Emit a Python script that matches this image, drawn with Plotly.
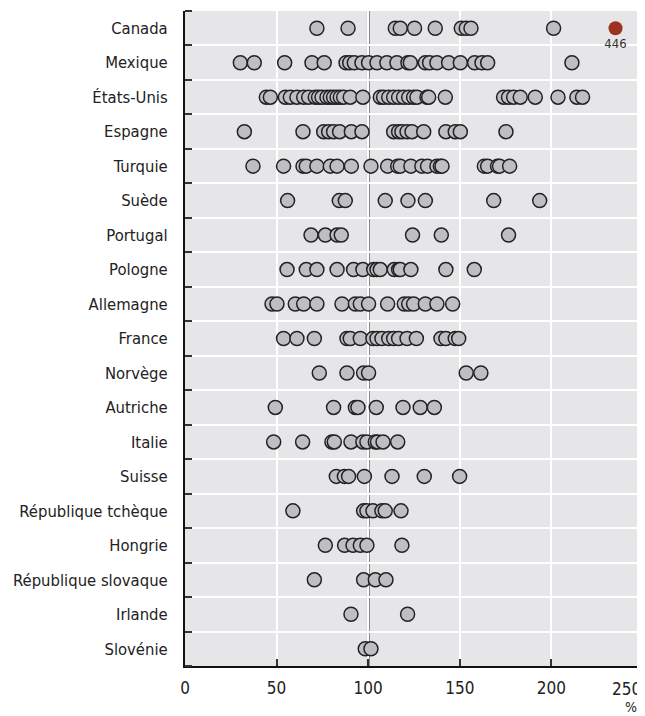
import plotly.graph_objects as go

countries = ["Canada", "Mexique", "États-Unis", "Espagne", "Turquie", "Suède", "Portugal",
             "Pologne", "Allemagne", "France", "Norvège", "Autriche", "Italie", "Suisse",
             "République tchèque", "Hongrie", "République slovaque", "Irlande", "Slovénie"]

canada = [72.0, 89.0, 114.8, 117.5, 125.3, 136.6, 150.8, 153.5, 156.1, 201.2]
mexique = [30.2, 37.8, 54.4, 69.3, 76.0, 87.9, 89.9, 92.4, 96.6, 100.2, 104.8, 110.2, 115.7,
           121.7, 123.0, 131.2, 133.5, 137.5, 143.9, 150.3, 158.1, 162.1, 165.2, 211.2]
etats_unis = [44.4, 46.6, 54.8, 57.5, 61.1, 64.8, 67.5, 71.1, 72.9, 74.8, 77.5, 79.3, 81.1, 83.0,
              84.8, 86.6, 90.2, 97.1, 106.6, 108.4, 111.2, 113.9, 116.6, 119.3, 122.1, 124.8,
              126.6, 132.1, 133.0, 142.1, 173.9, 176.6, 179.4, 183.0, 191.2, 203.6, 213.9, 217.0]
espagne = [32.4, 64.4, 75.7, 78.4, 81.1, 84.4, 90.8, 96.6, 113.9, 116.6, 118.4, 121.2, 123.9,
           130.3, 142.4, 147.5, 150.3, 175.2]
turquie = [37.1, 53.8, 64.4, 66.2, 72.0, 79.3, 83.0, 90.8, 101.5, 110.6, 116.1, 117.5, 123.3,
           129.3, 132.4, 137.5, 139.4, 140.3, 163.4, 165.2, 170.6, 171.7, 177.2]
suede = [56.0, 84.2, 87.5, 109.3, 121.7, 131.2, 168.5, 193.6]
portugal = [68.8, 76.6, 83.0, 85.3, 124.2, 139.9, 176.6]
pologne = [55.7, 66.2, 72.0, 83.0, 92.0, 97.1, 103.0, 104.8, 106.6, 114.2, 116.6, 117.5, 123.3,
           142.4, 157.9]
allemagne = [47.5, 50.2, 60.2, 64.8, 72.0, 85.7, 93.0, 95.7, 100.2, 110.6, 119.7, 122.1, 124.8,
             131.2, 137.5, 146.1]
france = [53.8, 61.1, 70.6, 88.4, 90.2, 95.7, 102.6, 104.8, 107.5, 111.2, 113.9, 116.6, 121.2,
          126.3, 139.7, 142.4, 147.5, 149.4]
norvege = [73.3, 88.4, 97.5, 100.2, 153.5, 161.5]
autriche = [49.3, 81.1, 93.0, 94.4, 104.4, 119.0, 128.4, 136.1]
italie = [48.4, 64.2, 80.2, 81.5, 90.6, 97.1, 99.3, 103.9, 105.1, 108.1, 116.1]
suisse = [82.6, 87.0, 89.3, 97.9, 113.0, 130.6, 149.9]
rep_tcheque = [58.9, 97.5, 99.3, 102.6, 107.5, 109.3, 117.9]
hongrie = [76.6, 87.1, 91.7, 95.7, 99.3, 118.4]
rep_slovaque = [70.6, 97.5, 103.9, 109.7]
irlande = [90.6, 121.5]
slovenie = [98.4, 101.5]

series = [canada, mexique, etats_unis, espagne, turquie, suede, portugal, pologne, allemagne,
          france, norvege, autriche, italie, suisse, rep_tcheque, hongrie, rep_slovaque,
          irlande, slovenie]

# Canada outlier: true value 446, drawn at the right edge of the (broken) scale
canada_outlier_value = 446
canada_outlier_display = 235

x_ticks = [0, 50, 100, 150, 200, 250]
reference_value = 100

n = len(countries)
ypos = {c: n - 1 - i for i, c in enumerate(countries)}

xs, ys = [], []
for c, vals in zip(countries, series):
    xs += vals
    ys += [ypos[c]] * len(vals)

FONT = "DejaVu Sans Condensed, Liberation Sans Narrow, sans-serif"

fig = go.Figure()
fig.add_shape(type="line", x0=reference_value, x1=reference_value, xref="x",
              y0=0, y1=1, yref="paper", line=dict(color="#1a1a1a", width=2.5), layer="below")
fig.add_trace(go.Scatter(
    x=xs, y=ys, mode="markers",
    marker=dict(size=14, color="#bfbfc3", line=dict(color="#222222", width=1.5)),
    hoverinfo="x+y", showlegend=False))
fig.add_trace(go.Scatter(
    x=[canada_outlier_display], y=[ypos["Canada"]], mode="markers+text",
    text=[str(canada_outlier_value)], textposition="bottom center",
    textfont=dict(family=FONT, size=13, color="#333333"),
    marker=dict(size=14, color="#9c3320", line=dict(width=0)),
    showlegend=False))

fig.add_annotation(x=250, y=0, xref="x", yref="paper", text="250", showarrow=False,
                   xanchor="right", yanchor="top", yshift=-11,
                   font=dict(family=FONT, size=17, color="#222"))
fig.add_annotation(x=1, y=0, xref="paper", yref="paper", text="%", showarrow=False,
                   xanchor="right", yanchor="top", yshift=-31, xshift=-4,
                   font=dict(family=FONT, size=14, color="#222"))

# page body adds an 8px offset; figure is sized to fill the remaining window
fig.update_layout(
    width=637, height=708,
    margin=dict(l=177, r=2, t=3, b=50),
    paper_bgcolor="white", plot_bgcolor="#e6e6e8",
    font=dict(family=FONT, size=16.5, color="#222"),
    xaxis=dict(range=[0, 250], tickmode="array", tickvals=x_ticks,
               ticktext=[str(v) if v != 250 else "" for v in x_ticks],
               tickfont=dict(size=17),
               showgrid=True, gridcolor="white", gridwidth=2,
               ticks="inside", ticklen=7, tickcolor="#333", tickwidth=1.5,
               showline=True, linecolor="#111", linewidth=2, zeroline=False,
               ticklabelstandoff=6, automargin=False),
    yaxis=dict(range=[-0.5, n - 0.5], tickmode="array",
               tickvals=[ypos[c] for c in countries], ticktext=countries,
               showgrid=False, ticks="", zeroline=False,
               showline=True, linecolor="#111", linewidth=2,
               ticklabelstandoff=12, automargin=False,
               minor=dict(tickmode="array", tickvals=[i - 0.5 for i in range(n + 1)],
                          showgrid=True, gridcolor="white", gridwidth=2,
                          ticks="inside", ticklen=7, tickcolor="#333", tickwidth=1.5)),
)

fig.write_html("out.html")
